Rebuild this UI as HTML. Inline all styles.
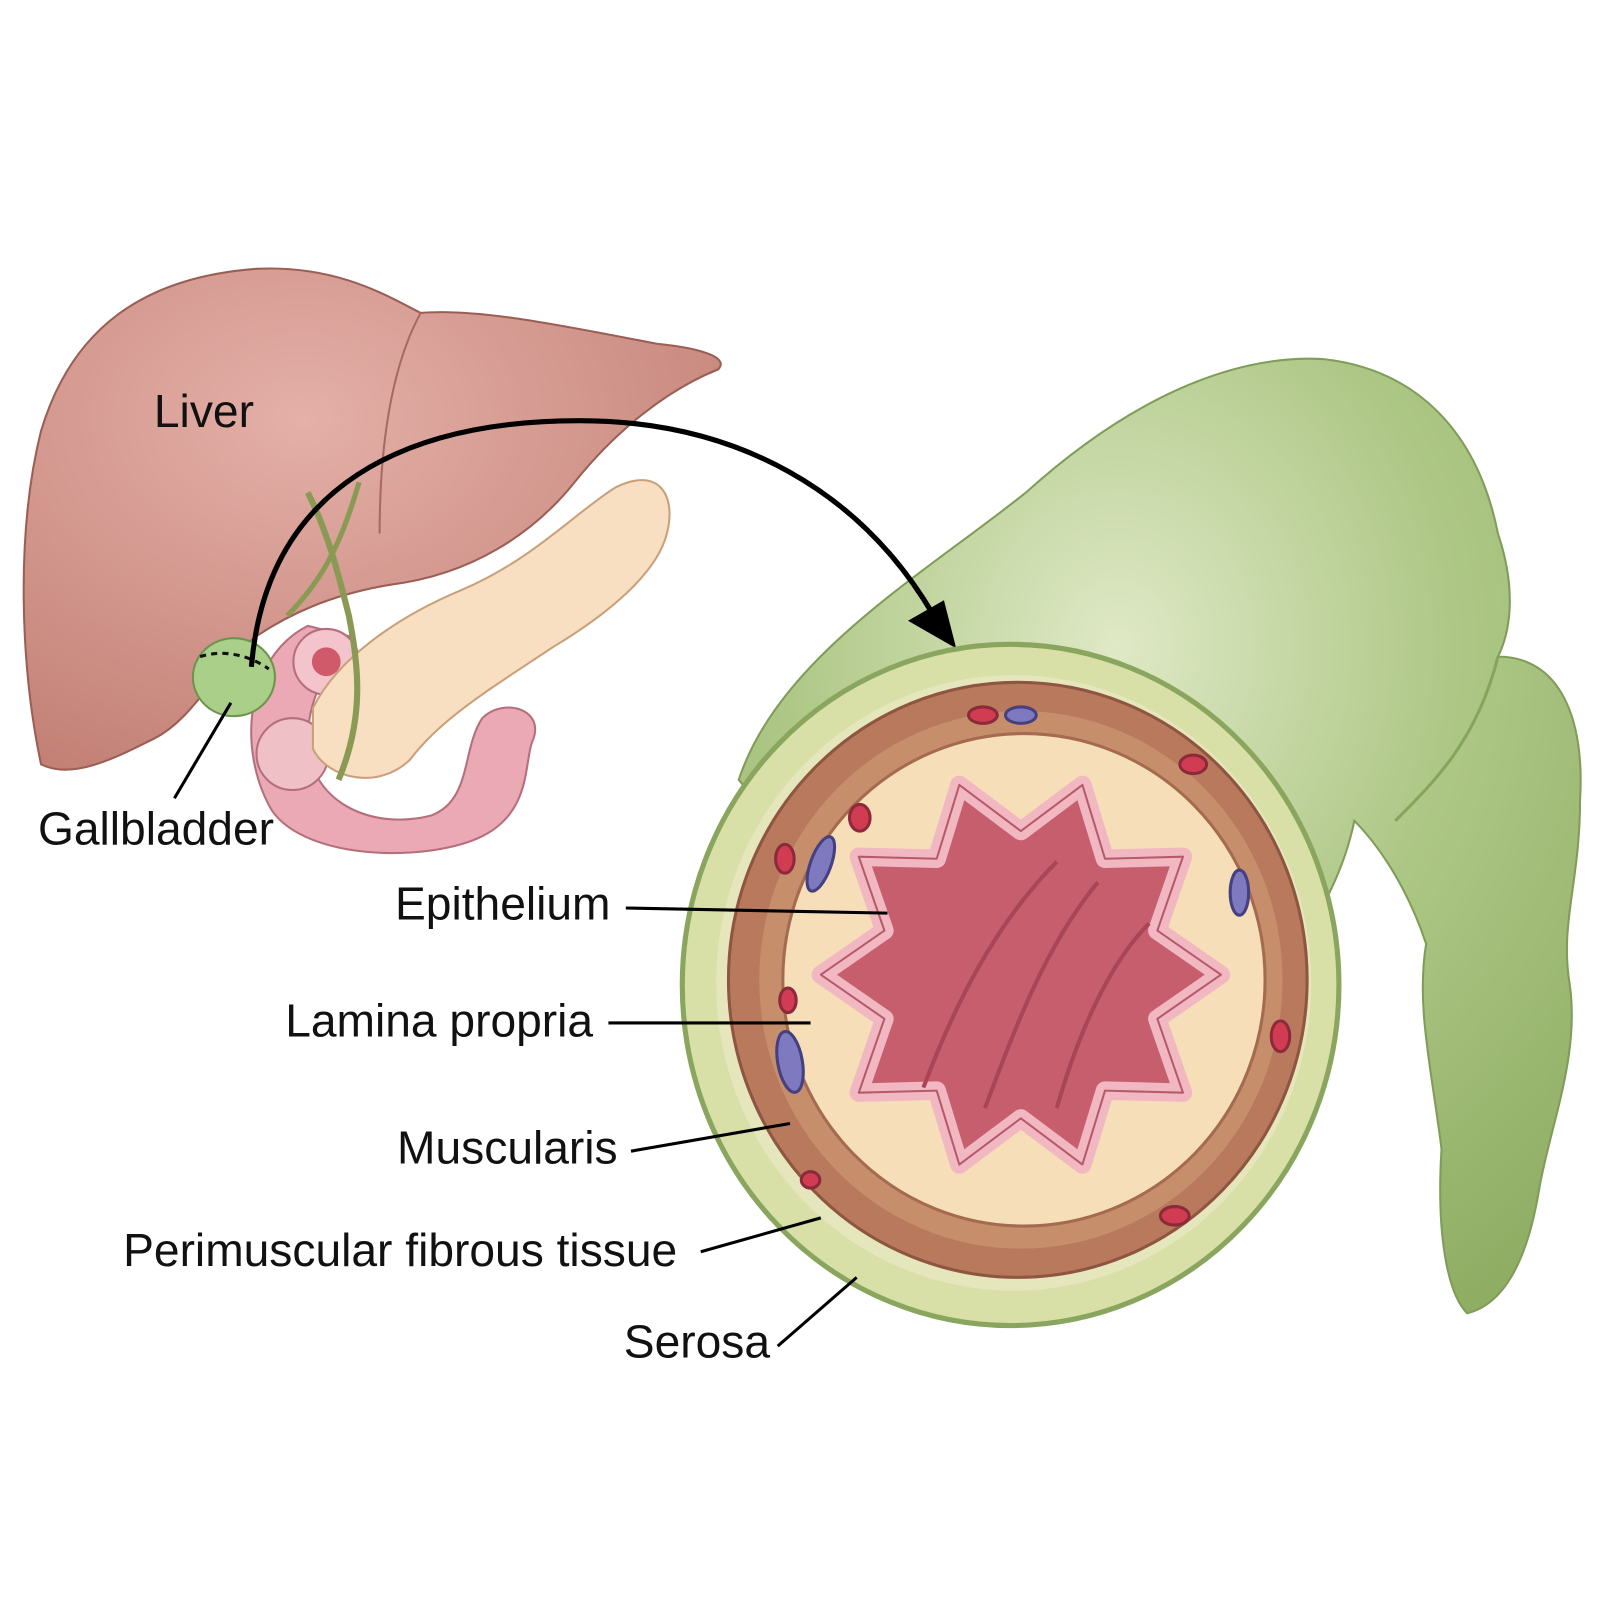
<!DOCTYPE html>
<html><head><meta charset="utf-8"><style>
html,body{margin:0;padding:0;background:#fff;}
svg{display:block;}
text{font-family:"Liberation Sans",sans-serif;font-size:45px;fill:#111;}
</style></head><body>
<svg width="1600" height="1600" viewBox="0 0 1600 1600" xmlns="http://www.w3.org/2000/svg">
<defs>
<radialGradient id="gb" cx="0.45" cy="0.3" r="0.8"><stop offset="0" stop-color="#dfe9c6"/><stop offset="0.5" stop-color="#aec786"/><stop offset="1" stop-color="#8fae64"/></radialGradient>
<radialGradient id="lv" cx="0.4" cy="0.3" r="0.8"><stop offset="0" stop-color="#e4b0a8"/><stop offset="1" stop-color="#c27f74"/></radialGradient>
</defs>
<g transform="scale(1.026)">
<path d="M720,760 C760,640 900,560 1000,480 C1100,390 1200,345 1290,350 C1380,360 1440,420 1460,520 C1480,580 1470,620 1460,640 C1520,640 1545,700 1540,780 C1540,860 1520,900 1530,960 C1540,1030 1510,1100 1500,1160 C1490,1220 1470,1270 1430,1280 C1410,1260 1400,1200 1405,1120 C1395,1040 1380,980 1390,920 C1370,860 1340,820 1320,800 C1300,900 1200,1050 1000,1100 Z" fill="url(#gb)" stroke="#7f9c58" stroke-width="2"/>
<path d="M1360,800 C1400,760 1440,720 1460,640" fill="none" stroke="#86a45c" stroke-width="3"/>
<path d="M40,745 C20,650 15,520 40,420 C70,320 140,270 250,262 C330,258 380,290 410,305 C470,300 560,320 640,335 C690,340 710,350 700,360 C650,380 600,420 560,470 C520,520 460,560 380,570 C320,580 280,600 250,620 C210,650 190,700 150,720 C110,740 70,760 40,745 Z" fill="url(#lv)" stroke="#9a5e55" stroke-width="2"/>
<path d="M410,305 C380,360 370,440 370,520" fill="none" stroke="#a76a60" stroke-width="2"/>
<path d="M300,610 C240,640 230,730 265,790 C300,840 420,840 470,815 C520,790 510,740 520,720 C530,690 490,680 470,700 C450,730 460,780 420,795 C360,810 300,780 300,720 C300,680 320,650 340,620 Z" fill="#eaa9b4" stroke="#b56f7c" stroke-width="2"/>
<circle cx="318" cy="645" r="32" fill="#f3c4cb" stroke="#b56f7c" stroke-width="2"/>
<circle cx="318" cy="645" r="14" fill="#d05a6a"/>
<circle cx="285" cy="735" r="35" fill="#f0c0c7" stroke="#b56f7c" stroke-width="2"/>
<path d="M305,690 C330,640 390,600 450,575 C520,545 560,500 600,475 C640,455 660,480 650,520 C640,560 590,600 540,630 C480,670 430,700 400,740 C370,770 320,760 305,730 Z" fill="#f9dfc2" stroke="#c9a07a" stroke-width="2"/>
<path d="M300,480 C320,520 330,560 340,600 C350,650 355,700 330,760" fill="none" stroke="#8a9a55" stroke-width="6"/>
<path d="M350,470 C335,520 320,560 280,600" fill="none" stroke="#8a9a55" stroke-width="5"/>
<ellipse cx="228" cy="660" rx="40" ry="38" fill="#a9cf88" stroke="#6d944f" stroke-width="2"/>
<path d="M195,640 C220,632 245,640 262,652" fill="none" stroke="#111" stroke-width="3" stroke-dasharray="6,5"/>
<path d="M245,650 C260,470 400,410 565,410 C720,410 840,480 910,600" fill="none" stroke="#000" stroke-width="5"/>
<polygon points="932,632 885,605 920,585" fill="#000"/>
<ellipse cx="985" cy="960" rx="320" ry="332" fill="#d8e0a8" stroke="#8aa65e" stroke-width="5"/>
<ellipse cx="988" cy="958" rx="290" ry="300" fill="#e6e6bd"/>
<ellipse cx="992" cy="955" rx="282" ry="290" fill="#b9795c" stroke="#8e5640" stroke-width="3"/>
<ellipse cx="995" cy="955" rx="255" ry="262" fill="#c78e6c"/>
<ellipse cx="998" cy="955" rx="235" ry="240" fill="#f6dfb8" stroke="#a46b50" stroke-width="3"/>
<polygon points="1190,950 1128,993 1153,1065 1077,1063 1055,1135 995,1090 935,1135 913,1063 837,1065 862,993 800,950 862,907 837,835 913,837 935,765 995,810 1055,765 1077,837 1153,835 1128,907" fill="#c75e6e" stroke="#f2b8c2" stroke-width="18" stroke-linejoin="round"/>
<polygon points="1190,950 1128,993 1153,1065 1077,1063 1055,1135 995,1090 935,1135 913,1063 837,1065 862,993 800,950 862,907 837,835 913,837 935,765 995,810 1055,765 1077,837 1153,835 1128,907" fill="none" stroke="#b55a6a" stroke-width="2" stroke-linejoin="round"/>
<path d="M900,1060 C930,980 970,900 1030,840 M960,1080 C990,1000 1020,920 1070,860 M1030,1080 C1050,1010 1080,940 1120,900" fill="none" stroke="#a84556" stroke-width="4"/>
<g stroke-width="3">
<ellipse cx="958" cy="697" rx="14" ry="8" fill="#d23c52" stroke="#8a2a3a"/>
<ellipse cx="995" cy="697" rx="15" ry="8" fill="#7f79c0" stroke="#454080"/>
<ellipse cx="1163" cy="745" rx="13" ry="9" fill="#d23c52" stroke="#8a2a3a"/>
<ellipse cx="838" cy="797" rx="10" ry="13" fill="#d23c52" stroke="#8a2a3a"/>
<ellipse cx="765" cy="837" rx="9" ry="14" fill="#d23c52" stroke="#8a2a3a"/>
<ellipse cx="800" cy="842" rx="10" ry="28" fill="#7f79c0" stroke="#454080" transform="rotate(20 800 842)"/>
<ellipse cx="1208" cy="870" rx="9" ry="22" fill="#7f79c0" stroke="#454080"/>
<ellipse cx="768" cy="975" rx="8" ry="12" fill="#d23c52" stroke="#8a2a3a"/>
<ellipse cx="770" cy="1035" rx="12" ry="30" fill="#7f79c0" stroke="#454080" transform="rotate(-10 770 1035)"/>
<ellipse cx="1248" cy="1010" rx="9" ry="15" fill="#d23c52" stroke="#8a2a3a"/>
<ellipse cx="790" cy="1150" rx="9" ry="8" fill="#d23c52" stroke="#8a2a3a"/>
<ellipse cx="1145" cy="1185" rx="14" ry="9" fill="#d23c52" stroke="#8a2a3a"/>
</g>
<g stroke="#000" stroke-width="3" fill="none">
<line x1="225" y1="685" x2="170" y2="778"/>
<line x1="610" y1="885" x2="865" y2="890"/>
<line x1="593" y1="997" x2="790" y2="997"/>
<line x1="615" y1="1122" x2="770" y2="1095"/>
<line x1="683" y1="1220" x2="800" y2="1187"/>
<line x1="758" y1="1312" x2="835" y2="1245"/>
</g>
<text x="150" y="416">Liver</text>
<text x="37" y="823">Gallbladder</text>
<text x="385" y="896">Epithelium</text>
<text x="278" y="1010">Lamina propria</text>
<text x="387" y="1134">Muscularis</text>
<text x="120" y="1234">Perimuscular fibrous tissue</text>
<text x="608" y="1323">Serosa</text>
</g>
</svg>
</body></html>
